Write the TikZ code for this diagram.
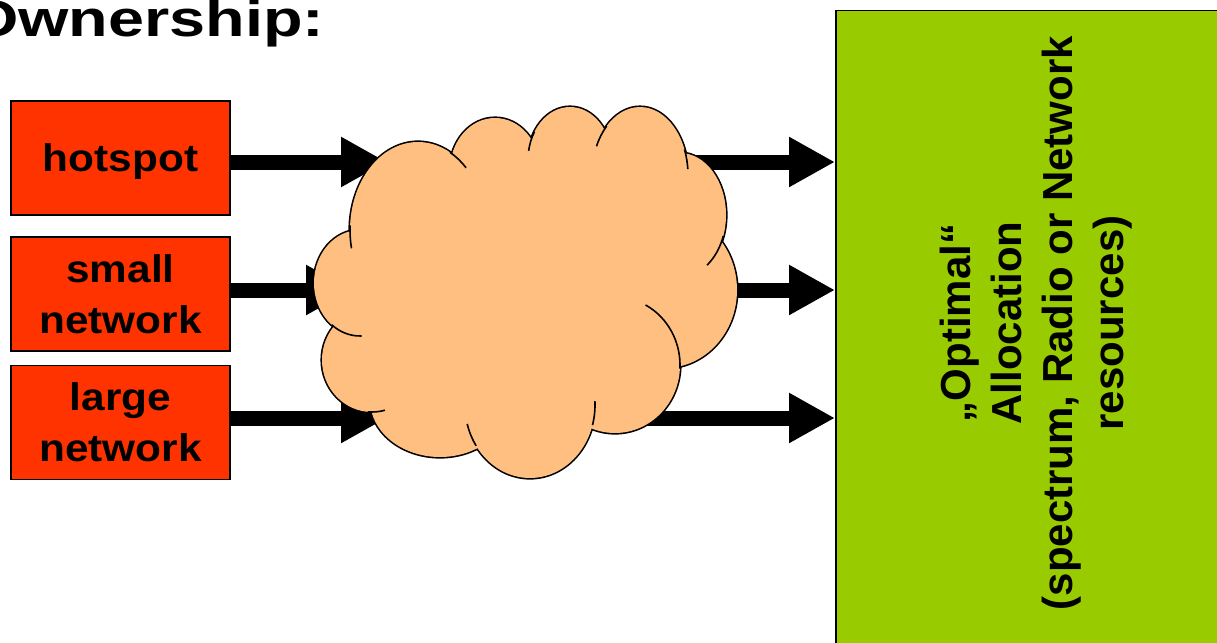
\documentclass[tikz,border=0pt]{standalone}
\usepackage{fontspec}
\setmainfont{Liberation Sans}
\newfontfamily\titlefont{Liberation Sans}[FakeStretch=1.27]
\newfontfamily\boxfont{Liberation Sans}[FakeStretch=1.1]
\usetikzlibrary{arrows.meta}
\definecolor{boxred}{HTML}{FF3300}
\definecolor{cloudfill}{HTML}{FFBF80}
\definecolor{allocgreen}{HTML}{99CC00}
\begin{document}
\begin{tikzpicture}[x=1pt,y=-1pt,
  srcbox/.style={draw=black, line width=1.5pt, fill=boxred, minimum width=219pt,
    minimum height=114pt, inner sep=0pt, align=center,
    font=\boxfont\bfseries\fontsize{38.5}{51}\selectfont},
  bigarrow/.style={line width=15pt, -{Triangle[length=46pt,width=47pt]}},
  cloudedge/.style={draw=black, line width=3.2pt, fill=cloudfill},
  cloudbody/.style={fill=cloudfill},
  hook/.style={draw=black, line width=1.6pt},
  allocbox/.style={draw=black, line width=1.5pt, fill=allocgreen, inner sep=0pt,
    minimum width=405pt, minimum height=650pt, anchor=north west},
  alloclabel/.style={rotate=90, align=center, inner sep=0pt,
    font=\bfseries\fontsize{42}{51}\selectfont},
  titlestyle/.style={anchor=base west, inner sep=0pt,
    font=\titlefont\bfseries\fontsize{51}{60}\selectfont}]
\path[use as bounding box] (0,0) rectangle (1217,642);
\clip (0,0) rectangle (1217,642);

% title
\node[titlestyle] (title) at (-32,37) {Ownership:};

% source boxes
\node[srcbox, text depth=0pt] (hotspot) at (120.5,158) {hotspot};
\node[srcbox] (small) at (120.5,294) {small\\network};
\node[srcbox] (large) at (120.5,422.5) {large\\network};

% allocation box
\node[allocbox] (alloc) at (835,10) {};
\node[alloclabel] (alloctext) at (1036,323) {„Optimal“\\Allocation\\(spectrum, Radio or Network\\resources)};

% arrow end points inside the cloud
\coordinate (in1) at (387,162);
\coordinate (in2) at (352,290);
\coordinate (in3) at (387,418);
\coordinate (out1) at (660,162);
\coordinate (out2) at (700,290);
\coordinate (out3) at (640,418);

% arrows (behind the cloud)
\draw[bigarrow] (hotspot.east |- in1) -- (in1);
\draw[bigarrow] (small.east |- in2) -- (in2);
\draw[bigarrow] (large.east |- in3) -- (in3);
\draw[bigarrow] (out1) -- (out1 -| alloc.west);
\draw[bigarrow] (out2) -- (out2 -| alloc.west);
\draw[bigarrow] (out3) -- (out3 -| alloc.west);

% cloud
\coordinate (cloud) at (540,300);
\foreach \cx/\cy/\rx/\ry in {418/230/68/88, 495/170/45/52, 570/160/42/53, 640/175/48/68,
    680/215/46/62, 665/290/72/78, 615/365/65/68, 530/405/65/73, 440/400/70/57,
    372/360/50/52, 360/283/46/53}
  \path[cloudedge] (\cx,\cy) ellipse [x radius=\rx, y radius=\ry];
\foreach \cx/\cy/\rx/\ry in {418/230/68/88, 495/170/45/52, 570/160/42/53, 640/175/48/68,
    680/215/46/62, 665/290/72/78, 615/365/65/68, 530/405/65/73, 440/400/70/57,
    372/360/50/52, 360/283/46/53}
  \path[cloudbody] (\cx,\cy) ellipse [x radius=\rx, y radius=\ry];
\path[cloudbody] (418,230) -- (495,170) -- (570,160) -- (640,175) -- (680,215) -- (665,290)
  -- (615,365) -- (530,405) -- (440,400) -- (372,360) -- (360,283) -- cycle;

% inner hooks of the cloud
\foreach \cx/\cy/\rx/\ry/\a/\b in {418/230/68/88/168/183, 418/230/68/88/-62/-45,
    570/160/42/53/190/212, 640/175/48/68/205/226, 640/175/48/68/-22/-5,
    680/215/46/62/20/54, 615/365/65/68/-62/3, 530/405/65/73/-3/16,
    530/405/65/73/146/165, 372/360/50/52/75/95, 360/283/46/53/88/128}
  \draw[hook] (\cx,\cy) ++({\a}:{\rx} and {\ry}) arc[start angle=\a, end angle=\b, x radius=\rx, y radius=\ry];
\end{tikzpicture}
\end{document}
